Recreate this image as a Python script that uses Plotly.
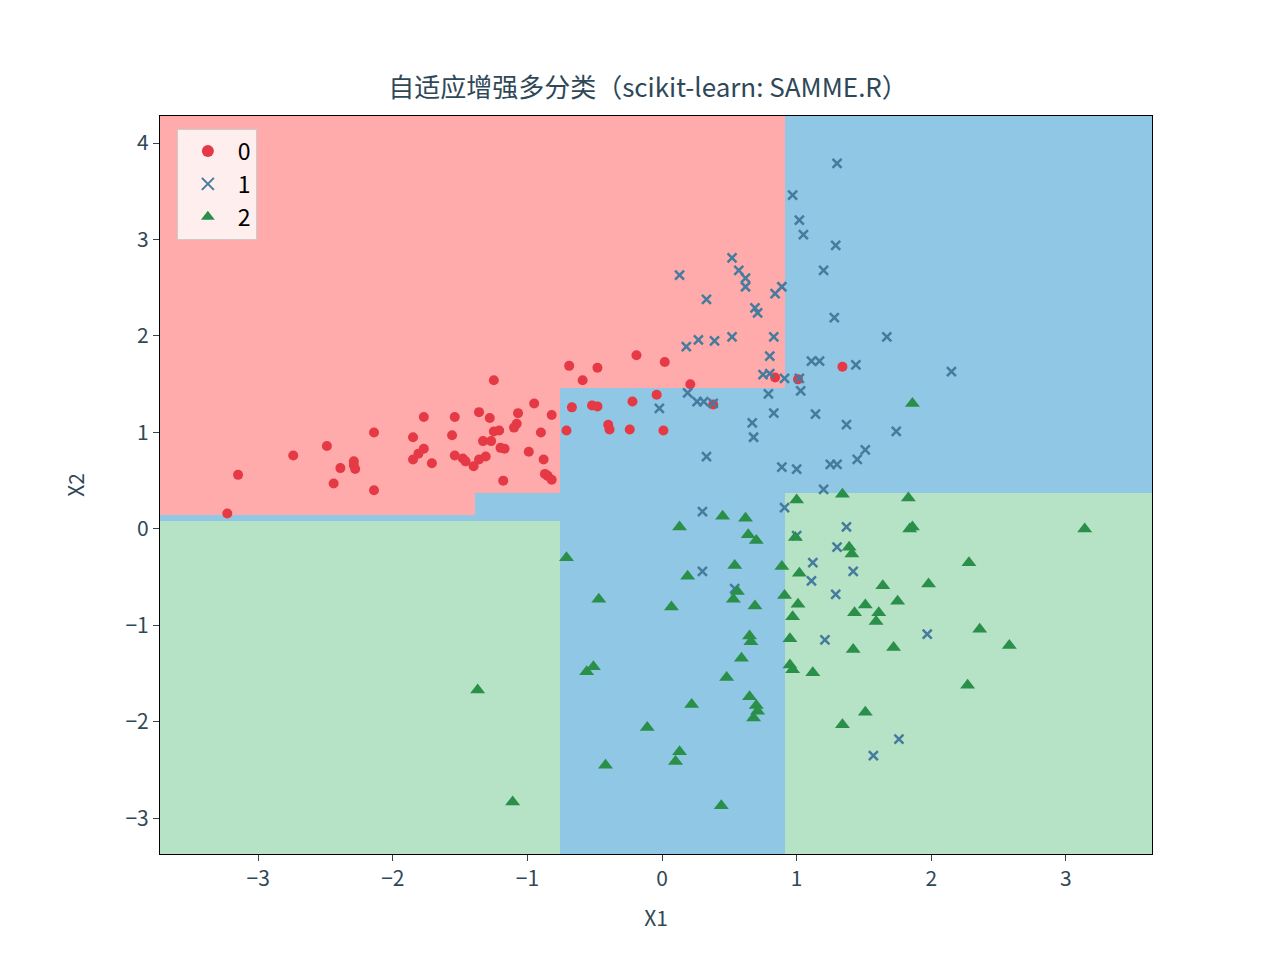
import plotly.graph_objects as go

x_edges = [-3.73, -1.39, -0.757, 0.913, 3.64]
y_edges = [-3.37, 0.08, 0.145, 0.37, 1.46, 4.28]
# class per cell: rows bottom->top, cols left->right
regions = [[2, 2, 1, 2],
           [1, 1, 1, 2],
           [0, 1, 1, 2],
           [0, 0, 1, 1],
           [0, 0, 0, 1]]

c0 = [(-3.23,0.16),(-3.15,0.56),(-2.74,0.76),(-2.49,0.86),(-2.44,0.47),(-2.39,0.63),(-2.29,0.70),(-2.28,0.62),(-2.29,0.66),(-2.14,0.40),(-2.14,1.00),(-1.85,0.95),(-1.85,0.72),(-1.81,0.78),(-1.77,0.83),(-1.71,0.68),(-1.77,1.16),(-1.56,0.97),(-1.54,1.16),(-1.54,0.76),(-1.48,0.73),(-1.46,0.70),(-1.40,0.65),(-1.36,0.72),(-1.36,1.21),(-1.33,0.91),(-1.31,0.75),(-1.28,1.15),(-1.27,0.91),(-1.25,1.01),(-1.25,1.54),(-1.21,1.02),(-1.20,0.84),(-1.18,0.50),(-1.17,0.83),(-1.10,1.05),(-1.08,1.09),(-1.07,1.20),(-0.99,0.80),(-0.95,1.30),(-0.90,1.00),(-0.88,0.72),(-0.87,0.57),(-0.85,0.55),(-0.82,0.51),(-0.82,1.18),(-0.71,1.02),(-0.69,1.69),(-0.67,1.26),(-0.59,1.54),(-0.52,1.28),(-0.48,1.67),(-0.48,1.27),(-0.40,1.08),(-0.39,1.03),(-0.24,1.03),(-0.22,1.32),(-0.19,1.80),(-0.04,1.39),(0.01,1.02),(0.02,1.73),(0.21,1.50),(0.38,1.29),(0.84,1.57),(1.01,1.55),(1.34,1.68)]
c1 = [(1.30,3.79),(0.97,3.46),(1.02,3.20),(1.05,3.05),(1.29,2.94),(0.52,2.81),(0.57,2.68),(0.62,2.60),(0.62,2.51),(0.13,2.63),(1.20,2.68),(0.33,2.38),(0.84,2.44),(0.89,2.51),(0.71,2.24),(0.69,2.29),(1.28,2.19),(1.67,1.99),(0.18,1.89),(0.27,1.96),(0.39,1.95),(0.52,1.99),(0.83,1.99),(0.80,1.79),(0.80,1.61),(0.75,1.60),(1.11,1.74),(1.17,1.74),(1.44,1.70),(2.15,1.63),(0.91,1.56),(1.03,1.43),(1.02,1.56),(0.19,1.41),(-0.02,1.25),(0.26,1.32),(0.31,1.32),(0.38,1.30),(0.79,1.40),(0.83,1.20),(0.67,1.10),(0.68,0.95),(1.14,1.19),(1.37,1.08),(1.74,1.01),(0.33,0.75),(1.45,0.72),(1.51,0.82),(1.25,0.67),(1.30,0.67),(0.89,0.64),(1.00,0.62),(1.20,0.41),(0.91,0.22),(0.30,0.18),(1.00,-0.07),(1.37,0.02),(1.30,-0.19),(1.12,-0.35),(0.30,-0.44),(1.42,-0.44),(1.11,-0.54),(0.54,-0.62),(1.29,-0.68),(1.21,-1.15),(1.97,-1.09),(1.57,-2.35),(1.76,-2.18)]
c2 = [(1.86,1.30),(3.14,0.00),(1.34,0.36),(1.83,0.32),(1.00,0.30),(1.86,0.02),(1.84,0.00),(0.99,-0.09),(0.13,0.02),(0.45,0.13),(0.62,0.11),(0.64,-0.06),(0.70,-0.12),(-0.71,-0.30),(0.54,-0.38),(0.89,-0.39),(1.02,-0.46),(2.28,-0.35),(0.19,-0.49),(1.39,-0.19),(1.41,-0.26),(-0.47,-0.73),(0.07,-0.81),(0.69,-0.80),(0.53,-0.73),(0.56,-0.65),(1.01,-0.78),(0.91,-0.69),(1.98,-0.57),(1.64,-0.59),(1.75,-0.75),(1.51,-0.79),(1.43,-0.87),(1.61,-0.87),(1.59,-0.96),(0.97,-0.91),(2.36,-1.04),(0.65,-1.11),(0.66,-1.17),(0.95,-1.14),(2.58,-1.21),(1.72,-1.23),(1.42,-1.25),(0.59,-1.34),(-0.51,-1.43),(-0.56,-1.48),(0.95,-1.41),(1.12,-1.49),(0.48,-1.54),(0.97,-1.46),(2.27,-1.62),(-1.37,-1.67),(0.70,-1.83),(0.71,-1.89),(0.65,-1.74),(0.68,-1.96),(0.22,-1.82),(1.51,-1.90),(1.34,-2.03),(-0.11,-2.06),(0.13,-2.31),(0.10,-2.41),(-0.42,-2.45),(-1.11,-2.83),(0.44,-2.87)]

bg_colors = ["#FFABAB", "#8FC7E5", "#B6E2C6"]
pt_colors = ["#E63946", "#457B9D", "#2A8F48"]
symbols = ["circle", "x-thin", "triangle-up"]
sizes = [10, 9, 13]
labels = ["0", "1", "2"]
txt = "#2F4858"

fig = go.Figure()
fig.add_trace(go.Heatmap(x=x_edges, y=y_edges, z=regions, zmin=0, zmax=2,
    colorscale=[[0, bg_colors[0]], [0.333, bg_colors[0]], [0.334, bg_colors[1]], [0.666, bg_colors[1]], [0.667, bg_colors[2]], [1, bg_colors[2]]],
    showscale=False, hoverinfo="skip"))
for i, pts in enumerate([c0, c1, c2]):
    m = dict(color=pt_colors[i], size=sizes[i], symbol=symbols[i])
    if i == 1:
        m["line"] = dict(color=pt_colors[i], width=2.5)
    fig.add_trace(go.Scatter(x=[p[0] for p in pts], y=[p[1] for p in pts], mode="markers",
                             marker=m, name=labels[i]))

ax = dict(showgrid=False, zeroline=False, ticks="outside", ticklen=6, tickcolor=txt, automargin=False,
          showline=True, linecolor="black", linewidth=1.2, mirror=True,
          tickfont=dict(size=21, color=txt), title_font=dict(size=21, color=txt))
fig.update_layout(
    width=1280, height=960, plot_bgcolor="white", paper_bgcolor="white",
    font=dict(family="Noto Sans CJK SC, Noto Sans, sans-serif", color=txt),
    title=dict(text="自适应增强多分类（scikit-learn: SAMME.R）", x=0.5, xanchor="center", y=0.917, yanchor="middle",
               font=dict(size=26, color=txt)),
    margin=dict(l=152, r=136, t=108, b=114),
    xaxis=dict(range=[-3.73, 3.64], tickvals=[-3, -2, -1, 0, 1, 2, 3], ticktext=["−3", "−2", "−1", "0", "1", "2", "3"],
               title_text="X1", title_standoff=20, **ax),
    yaxis=dict(range=[-3.37, 4.28], tickvals=[-3, -2, -1, 0, 1, 2, 3, 4], ticktext=["−3", "−2", "−1", "0", "1", "2", "3", "4"],
               title_text="X2", title_standoff=35, **ax),
    legend=dict(x=0.017, y=0.983, xanchor="left", yanchor="top", bgcolor="rgba(255,255,255,0.8)",
                bordercolor="#cccccc", borderwidth=1, font=dict(size=23, color="black"), itemsizing="constant",
                itemwidth=50, tracegroupgap=12),
)
fig.write_html("out.html")
